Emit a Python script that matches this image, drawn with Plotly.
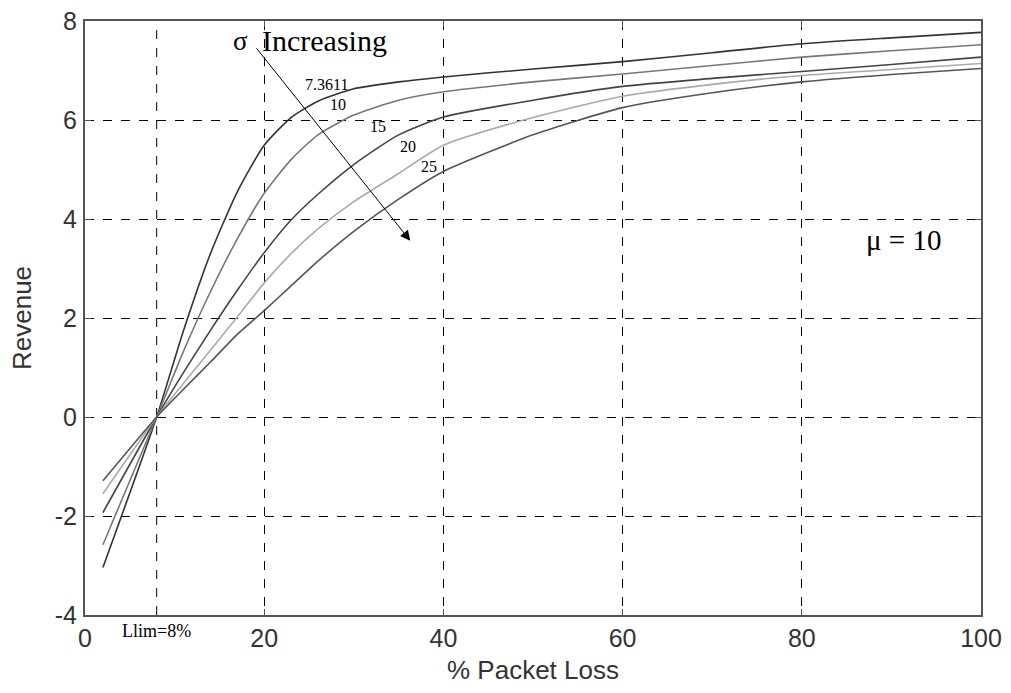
import plotly.graph_objects as go

# Data
packet_loss = [2, 8, 11, 14, 17, 20, 23, 26, 30, 35, 40, 50, 60, 70, 80, 90, 100]
sigma_labels = ["7.3611", "10", "15", "20", "25"]
rev_s7 = [-3.04, 0, 1.75, 3.30, 4.55, 5.49, 6.05, 6.38, 6.63, 6.77, 6.87, 7.03, 7.18, 7.36, 7.54, 7.66, 7.77]
rev_s10 = [-2.58, 0, 1.33, 2.53, 3.60, 4.52, 5.20, 5.70, 6.10, 6.40, 6.57, 6.77, 6.93, 7.10, 7.27, 7.40, 7.52]
rev_s15 = [-1.93, 0, 0.90, 1.75, 2.56, 3.32, 3.98, 4.50, 5.10, 5.70, 6.06, 6.40, 6.68, 6.84, 6.98, 7.12, 7.27]
rev_s20 = [-1.55, 0, 0.68, 1.35, 2.02, 2.71, 3.30, 3.80, 4.35, 4.92, 5.49, 6.05, 6.48, 6.72, 6.90, 7.02, 7.14]
rev_s25 = [-1.29, 0, 0.56, 1.11, 1.67, 2.15, 2.65, 3.15, 3.75, 4.40, 4.96, 5.70, 6.25, 6.55, 6.77, 6.92, 7.04]
series = [rev_s7, rev_s10, rev_s15, rev_s20, rev_s25]
colors = ["#333333", "#777777", "#444444", "#aaaaaa", "#555555"]
x_ticks = [0, 20, 40, 60, 80, 100]
y_ticks = [-4, -2, 0, 2, 4, 6, 8]
y_ticktext = ["-4", "-2", "0", "2", "4", "6", "8"]
LLIM = 8
MU = 10
# label anchor positions (data units)
label_x = [27.0, 28.2, 32.7, 36.1, 38.4]
label_y = [6.71, 6.31, 5.87, 5.47, 5.07]
arrow_start = (19.0, 7.48)
arrow_end = (36.3, 3.56)

fig = go.Figure()
for vals, col, lab in zip(series, colors, sigma_labels):
    fig.add_trace(go.Scatter(x=packet_loss, y=vals, mode="lines", name=lab,
                             line=dict(color=col, width=1.6, shape="spline", smoothing=0.6),
                             showlegend=False))

fig.add_vline(x=LLIM, line=dict(color="black", width=1, dash="dash"), layer="below")

serif = "Liberation Serif"
sans = "Liberation Sans"
for lab, lx, ly in zip(sigma_labels, label_x, label_y):
    fig.add_annotation(x=lx, y=ly, text=lab, showarrow=False,
                       font=dict(family=serif, size=16, color="black"))

fig.add_annotation(x=arrow_end[0], y=arrow_end[1], ax=arrow_start[0], ay=arrow_start[1],
                   xref="x", yref="y", axref="x", ayref="y", text="",
                   showarrow=True, arrowhead=2, arrowsize=2, arrowwidth=1, arrowcolor="black")
fig.add_annotation(x=arrow_start[0] - 1.7, y=arrow_start[1] + 0.12, text="σ", showarrow=False,
                   font=dict(family=serif, size=27, color="black"))
fig.add_annotation(x=arrow_start[0] + 0.5, y=arrow_start[1] + 0.12, text="Increasing",
                   showarrow=False, xanchor="left",
                   font=dict(family=serif, size=30, color="black"))
fig.add_annotation(x=91.3, y=3.58, text=f"μ = {MU}", showarrow=False,
                   font=dict(family=serif, size=29, color="black"))
fig.add_annotation(x=LLIM, y=0, yref="paper", yanchor="top", yshift=-4, text=f"Llim={LLIM}%",
                   showarrow=False, font=dict(family=serif, size=18, color="black"))

# axis titles
fig.add_annotation(x=0.5, y=0, xref="paper", yref="paper", yanchor="middle", yshift=-55,
                   text="% Packet Loss", showarrow=False,
                   font=dict(family=sans, size=26, color="#333333"))
fig.add_annotation(x=0, y=0.5, xref="paper", yref="paper", xanchor="center", xshift=-63,
                   text="Revenue", textangle=-90, showarrow=False,
                   font=dict(family=sans, size=26, color="#333333"))

axis_common = dict(showline=True, mirror="allticks", linecolor="#555555", linewidth=2,
                   ticks="inside", ticklen=6, tickcolor="#555555",
                   showgrid=True, gridcolor="black", gridwidth=1, griddash="dash",
                   zeroline=False, automargin=False, ticklabeloverflow="allow",
                   tickfont=dict(family=sans, size=25, color="#333333"))

fig.update_xaxes(range=[0, 100], tickvals=x_ticks, ticklabelstandoff=0, **axis_common)
fig.update_yaxes(range=[-4, 8], tickvals=y_ticks, ticktext=y_ticktext, ticklabelstandoff=1,
                 **axis_common)

# the page body adds an 8px margin, so the figure is sized to compensate
fig.update_layout(width=1003, height=685, plot_bgcolor="white", paper_bgcolor="white",
                  margin=dict(l=77, r=30, t=13, b=78))

fig.write_html("out.html")
